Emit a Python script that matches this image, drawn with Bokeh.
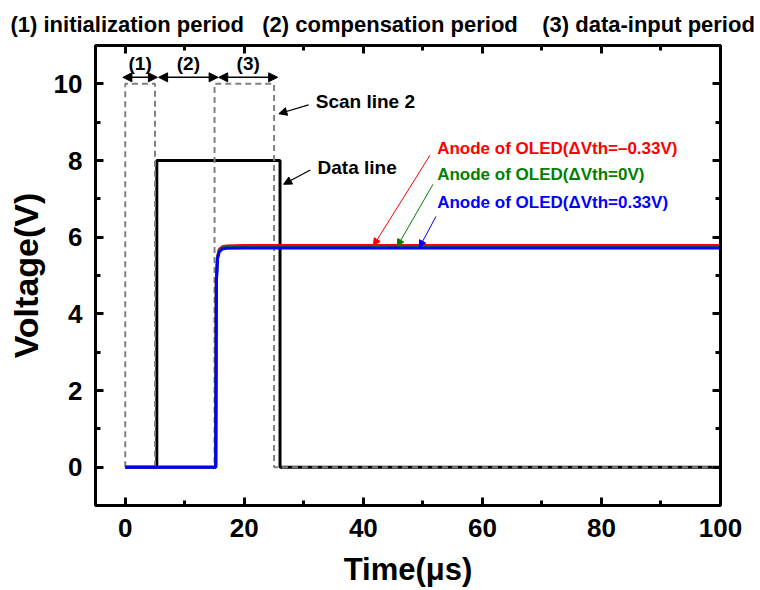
from bokeh.plotting import figure
from bokeh.models import (Range1d, FixedTicker, LinearAxis, Label, Arrow, NormalHead, Title,
                          CustomLabelingPolicy)
from bokeh.embed import file_html
from bokeh.resources import INLINE

# ---- data ----
t_scan = [0, 0, 5, 5, 15, 15, 25, 25, 100]
v_scan = [0, 10, 10, 0, 0, 10, 10, 0, 0]
t_data = [0, 5.3, 5.3, 26, 26, 100]
v_data = [0, 0, 8, 8, 0, 0]
t_anode = [0, 15.2, 15.3, 15.5, 15.8, 16.3, 17.0, 20, 100]
v_red = [0, 0, 4.9, 5.5, 5.68, 5.75, 5.77, 5.78, 5.78]
v_green = [0, 0, 4.85, 5.47, 5.65, 5.72, 5.74, 5.75, 5.75]
v_blue = [0, 0, 4.8, 5.44, 5.62, 5.69, 5.71, 5.72, 5.72]
x_ticks = [0, 20, 40, 60, 80, 100]
x_minor = [10, 30, 50, 70, 90]
y_ticks = [0, 2, 4, 6, 8, 10]
y_minor = [1, 3, 5, 7, 9]
period_titles = ["(1) initialization period", "(2) compensation period", "(3) data-input period"]
period_gaps = [3, 4]
period_marks = ["(1)", "(2)", "(3)"]
period_start = [-0.4, 5.6, 15.7]
period_end = [5.4, 15.6, 25.6]
anode_labels = ["Anode of OLED(\u0394Vth=\u20130.33V)", "Anode of OLED(\u0394Vth=0V)", "Anode of OLED(\u0394Vth=0.33V)"]
anode_colors = ["#ff0000", "#008000", "#0000ff"]
anode_label_y = [8.32, 7.64, 6.91]
anode_arrow_start = [(51.2, 8.14), (51.7, 7.38), (52.2, 6.54)]
anode_arrow_end = [(41.7, 5.78), (45.7, 5.76), (49.4, 5.73)]

FONT = "Liberation Sans"

p = figure(frame_width=625, frame_height=460, output_backend="svg", toolbar_location=None,
           x_range=Range1d(-5, 100), y_range=Range1d(-1, 11),
           min_border_left=95, min_border_right=40, min_border_top=44, min_border_bottom=84)
p.background_fill_color = "white"
p.border_fill_color = "white"
p.outline_line_color = "black"
p.outline_line_width = 3
p.xgrid.visible = False
p.ygrid.visible = False

def style_axis(ax, ticks, minor, show_labels=True):
    ax.ticker = FixedTicker(ticks=ticks, minor_ticks=minor)
    ax.axis_line_width = 3
    ax.axis_line_color = "black"
    ax.major_tick_in = 8
    ax.major_tick_out = 0
    ax.minor_tick_in = 5
    ax.minor_tick_out = 0
    ax.major_tick_line_width = 3
    ax.minor_tick_line_width = 3
    ax.major_label_text_font = FONT
    ax.major_label_text_font_style = "bold"
    ax.major_label_text_font_size = "26px"
    ax.major_label_text_color = "black"
    ax.axis_label_text_font = FONT
    ax.axis_label_text_font_style = "bold"
    ax.axis_label_text_font_size = "31px"
    ax.axis_label_text_color = "black"
    if not show_labels:
        ax.major_label_policy = CustomLabelingPolicy(code="return new Set()")
        ax.major_label_standoff = 0
        ax.axis_label_standoff = 0
        ax.major_label_text_font_size = "0px"

xa = p.xaxis[0]
ya = p.yaxis[0]
style_axis(xa, x_ticks, x_minor)
style_axis(ya, y_ticks, y_minor)
xa.axis_label = "Time(\u03bcs)"
ya.axis_label = "Voltage(V)"
ya.axis_label_text_font_size = "34px"
xa.major_label_standoff = 13
xa.axis_label_standoff = 12
ya.major_label_standoff = 13
ya.axis_label_standoff = 6

top = LinearAxis()
style_axis(top, x_ticks, x_minor, show_labels=False)
p.add_layout(top, "above")
right = LinearAxis()
style_axis(right, y_ticks, y_minor, show_labels=False)
p.add_layout(right, "right")

# ---- header with the three periods ----
nb = "\u00a0"
header = period_titles[0] + nb * period_gaps[0] + period_titles[1] + nb * period_gaps[1] + period_titles[2]
p.add_layout(Title(text=header, align="left", offset=-85, text_font=FONT, text_font_style="bold",
                   text_font_size="22px", text_color="black", standoff=18), "above")

# ---- curves ----
p.line(t_data, v_data, line_color="black", line_width=3)
p.line(t_scan, v_scan, line_color="#808080", line_width=2, line_dash="6 4")
p.line(t_anode, v_red, line_color="#ff0000", line_width=3)
p.line(t_anode, v_green, line_color="#008000", line_width=3)
p.line(t_anode, v_blue, line_color="#0000ff", line_width=3)

# ---- period annotations ----
for m, s, e in zip(period_marks, period_start, period_end):
    p.add_layout(Label(x=(s + e) / 2, y=10.52, text=m, text_font=FONT, text_font_style="bold",
                       text_font_size="19px", text_baseline="middle", text_align="center",
                       text_color="black"))
    p.add_layout(Arrow(x_start=s, y_start=10.17, x_end=e, y_end=10.17, line_width=1.5,
                       start=NormalHead(size=9, fill_color="black", line_color="black"),
                       end=NormalHead(size=9, fill_color="black", line_color="black")))

p.add_layout(Label(x=32.0, y=9.55, text="Scan line 2", text_font=FONT, text_font_style="bold",
                   text_font_size="19px", text_baseline="middle", text_align="left",
                   text_color="black"))
p.add_layout(Arrow(x_start=30.8, y_start=9.45, x_end=25.8, y_end=9.22, line_width=1.2,
                   end=NormalHead(size=8, fill_color="black", line_color="black")))
p.add_layout(Label(x=32.3, y=7.83, text="Data line", text_font=FONT, text_font_style="bold",
                   text_font_size="19px", text_baseline="middle", text_align="left",
                   text_color="black"))
p.add_layout(Arrow(x_start=31.1, y_start=7.75, x_end=26.6, y_end=7.38, line_width=1.2,
                   end=NormalHead(size=8, fill_color="black", line_color="black")))

for txt, c, ly, (sx, sy), (ex, ey) in zip(anode_labels, anode_colors, anode_label_y,
                                          anode_arrow_start, anode_arrow_end):
    p.add_layout(Label(x=52.4, y=ly, text=txt, text_font=FONT, text_font_style="bold",
                       text_font_size="17px", text_baseline="middle", text_align="left",
                       text_color=c))
    p.add_layout(Arrow(x_start=sx, y_start=sy, x_end=ex, y_end=ey, line_width=1,
                       line_color=c, end=NormalHead(size=7, fill_color=c, line_color=c)))

open("out.html", "w").write(file_html(p, INLINE))
